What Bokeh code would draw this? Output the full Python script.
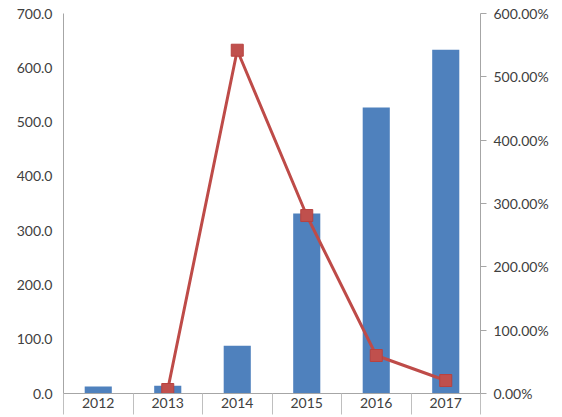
from bokeh.plotting import figure
from bokeh.models import (Range1d, LinearAxis, FixedTicker, PrintfTickFormatter,
                          ColumnDataSource)
from bokeh.embed import file_html
from bokeh.resources import INLINE

# Annual values and year-over-year growth
years = ["2012", "2013", "2014", "2015", "2016", "2017"]
values = [12.9, 14.5, 88.0, 331.5, 527.0, 633.0]
growth_years = ["2013", "2014", "2015", "2016", "2017"]
growth_pct = [6.3, 542.0, 281.0, 60.0, 20.5]
left_ticks = [0, 100, 200, 300, 400, 500, 600, 700]
right_ticks = [0, 100, 200, 300, 400, 500, 600]

BAR = "#4F81BD"
LINE = "#BE4B48"
AXIS = "#A6A6A6"
TEXT = "#404040"
FONT = "Lato"

# category centres on a numeric x scale (one unit per year)
idx = {y: i + 0.5 for i, y in enumerate(years)}
bars = ColumnDataSource(dict(x=[idx[y] for y in years], top=values))
line = ColumnDataSource(dict(x=[idx[y] for y in growth_years], y=growth_pct))

p = figure(width=562, height=417, output_backend="svg", toolbar_location=None,
           x_range=Range1d(0, len(years)), y_range=Range1d(0, 700),
           min_border_left=63, min_border_right=82, min_border_top=13,
           min_border_bottom=24, x_axis_type=None, y_axis_type=None)
p.outline_line_color = None
p.xgrid.visible = False
p.ygrid.visible = False
p.background_fill_color = "white"
p.border_fill_color = "white"

p.extra_y_ranges = {"pct": Range1d(0, 600)}

p.vbar(x="x", top="top", width=0.39, source=bars, fill_color=BAR, line_color=None)
p.line(x="x", y="y", source=line, y_range_name="pct", line_color=LINE, line_width=3)
p.scatter(x="x", y="y", source=line, y_range_name="pct", marker="square", size=12,
          fill_color="#C0504D", line_color="#B8423F", line_width=1)

# bottom axis: year labels at centres, separators at category boundaries
xa = LinearAxis(ticker=FixedTicker(ticks=[idx[y] for y in years],
                                   minor_ticks=list(range(len(years) + 1))),
                major_label_overrides={idx[y]: y for y in years})
xa.major_tick_out = 0
xa.major_tick_in = 0
xa.minor_tick_out = 21
xa.minor_tick_in = 0
xa.minor_tick_line_color = "#BFBFBF"
xa.axis_line_color = AXIS
xa.major_label_standoff = -17
xa.major_label_text_font = FONT
xa.major_label_text_font_size = "14px"
xa.major_label_text_color = TEXT
p.add_layout(xa, "below")

ya = LinearAxis(ticker=FixedTicker(ticks=left_ticks, minor_ticks=[]))
ya.formatter = PrintfTickFormatter(format="%.1f")
ya.major_tick_out = 0
ya.major_tick_in = 0
ya.minor_tick_out = 0
ya.axis_line_color = AXIS
ya.major_label_standoff = 11
ya.major_label_text_font = FONT
ya.major_label_text_font_size = "14px"
ya.major_label_text_color = TEXT
p.add_layout(ya, "left")

ra = LinearAxis(y_range_name="pct", ticker=FixedTicker(ticks=right_ticks, minor_ticks=[]))
ra.formatter = PrintfTickFormatter(format="%.2f%%")
ra.major_tick_out = 6
ra.major_tick_in = 0
ra.minor_tick_out = 0
ra.major_tick_line_color = AXIS
ra.axis_line_color = AXIS
ra.major_label_standoff = 7
ra.major_label_text_font = FONT
ra.major_label_text_font_size = "14px"
ra.major_label_text_color = TEXT
p.add_layout(ra, "right")

open("out.html", "w").write(file_html(p, INLINE))
